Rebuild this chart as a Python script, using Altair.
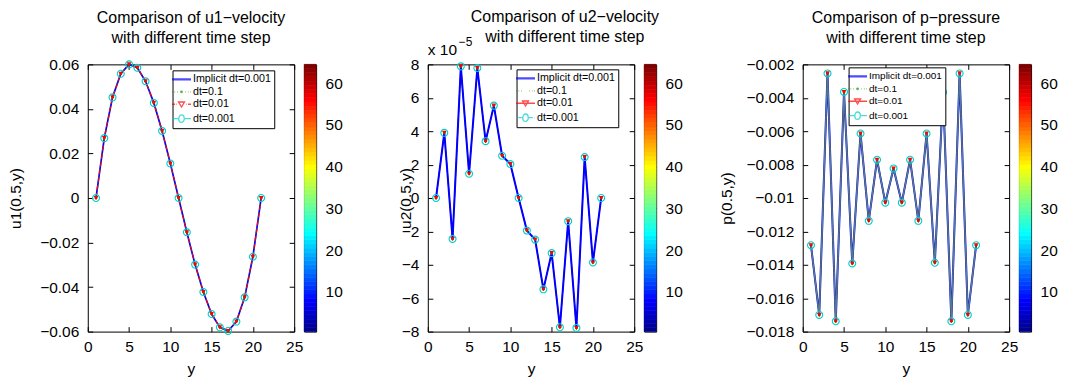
import altair as alt
import pandas as pd

# ---------------- data ----------------
Y_POS = [1, 2, 3, 4, 5, 6, 7, 8, 9, 10, 11, 12, 13, 14, 15, 16, 17, 18, 19, 20, 21]

U1 = [0.0, 0.0269, 0.0452, 0.0558, 0.0600, 0.0585, 0.0524, 0.0427, 0.0301, 0.0155, 0.0,
      -0.0154, -0.0299, -0.0422, -0.0521, -0.0581, -0.0597, -0.0555, -0.0446, -0.0264, 0.0]

U2_E5 = [0.0, 3.9, -2.45, 7.88, 1.45, 7.78, 3.40, 5.53, 2.53, 2.03, 0.0,
         -1.95, -2.49, -5.47, -3.30, -7.74, -1.39, -7.78, 2.45, -3.86, 0.0]

P = [-0.01283, -0.0170, -0.00254, -0.01738, -0.00365, -0.01392, -0.00614, -0.01137, -0.00771,
     -0.01028, -0.00823, -0.01028, -0.00771, -0.01137, -0.00614, -0.01388, -0.00367, -0.01738,
     -0.00254, -0.0170, -0.01283]

SERIES = ["Implicit dt=0.001", "dt=0.1", "dt=0.01", "dt=0.001"]
SERIES_COLORS = ["#0000ff", "#009900", "#ff0000", "#00cccc"]

X_TICKS = [0, 5, 10, 15, 20, 25]
U1_TICKS = [-0.06, -0.04, -0.02, 0, 0.02, 0.04, 0.06]
U2_TICKS = [-8, -6, -4, -2, 0, 2, 4, 6, 8]
P_TICKS = [-0.018, -0.016, -0.014, -0.012, -0.01, -0.008, -0.006, -0.004, -0.002]

TITLES = [
    ["Comparison of u1\u2212velocity", "with different time step"],
    ["Comparison of u2\u2212velocity", "with different time step"],
    ["Comparison of p\u2212pressure", "with different time step"],
]
YTITLES = ["u1(0.5,y)", "u2(0.5,y)", "p(0.5,y)"]
MULT_BASE = "x 10"
MULT_EXP = "\u22125"

CB_LEVELS = list(range(1, 65))
CB_TICKS = [10, 20, 30, 40, 50, 60]
JET_STOPS = [1, 8, 24, 40, 56, 64]
JET_COLORS = ["#00008f", "#0000ff", "#00ffff", "#ffff00", "#ff0000", "#800000"]

# ---------------- styling ----------------
FONT = "Liberation Sans"
W, H = 207, 268
LBL = 15.5

# legend symbol paths (line + marker)
ELL = "M-0.55,0A0.55,0.75 0 1,0 0.55,0A0.55,0.75 0 1,0 -0.55,0"
TRI = "M-0.6,-0.45L0.6,-0.45L0,0.55Z"
DOT = "M-0.15,0A0.15,0.15 0 1,0 0.15,0A0.15,0.15 0 1,0 -0.15,0"
SOLID_THICK = "M-1.9,-0.1L1.9,-0.1M-1.9,0.1L1.9,0.1"
DOTTED = "M-1.9,0L-1.78,0M-1.4,0L-1.28,0M-0.9,0L-0.78,0M0.78,0L0.9,0M1.28,0L1.4,0M1.78,0L1.9,0"
DASHDOT = "M-1.9,0L-1.3,0M-1.05,0L-0.95,0M0.95,0L1.05,0M1.3,0L1.9,0"
SOLID_GAP = "M-1.9,0L-0.6,0M0.6,0L1.9,0"
SOLID = "M-1.9,0L1.9,0"
DASHDOT_GAP = "M-1.9,0L-1.8,0M-1.45,0L-0.6,0M0.6,0L1.45,0M1.8,0L1.9,0"

LEG_PATHS = [
    [SOLID_THICK, DOTTED + DOT, DASHDOT + TRI, SOLID_GAP + ELL],
    [SOLID_THICK, DOTTED, SOLID + TRI, DASHDOT_GAP + ELL],
    [SOLID_THICK, DOTTED + DOT, SOLID + TRI, SOLID_GAP + ELL],
]


def panel(values, idx, ydomain, yticks, title_x, legend_x, legend_y, legend_font,
          line_layers, title_offset, title_dx=0, extra=()):
    df = pd.DataFrame({"y": Y_POS, "v": values})
    xs = alt.Scale(domain=[0, 25], nice=False, zero=False)
    ys = alt.Scale(domain=ydomain, nice=False, zero=False)
    x_main = alt.Axis(values=X_TICKS, offset=-5, tickSize=5, labelPadding=8, labelFlush=False,
                      title="y", titlePadding=7)
    y_main = alt.Axis(values=yticks, format="~g", offset=-5, tickSize=5, labelPadding=9,
                      labelFlush=False, title=YTITLES[idx], titleX=title_x, titleY=H / 2,
                      titleAngle=270, titleAlign="center", titleBaseline="middle")
    x_top = alt.Axis(orient="top", values=X_TICKS, offset=-5, tickSize=5, labels=False, title=None)
    y_right = alt.Axis(orient="right", values=yticks, offset=-5, tickSize=5, labels=False, title=None)

    def enc(xa=None, ya=None):
        return dict(x=alt.X("y:Q", scale=xs, axis=xa), y=alt.Y("v:Q", scale=ys, axis=ya))

    base = alt.Chart(df)
    layers = []
    first = True
    for (color, width, dash, op) in line_layers:
        kw = dict(color=color, strokeWidth=width, opacity=op)
        if dash:
            kw["strokeDash"] = dash
        if first:
            layers.append(base.mark_line(**kw).encode(**enc(x_main, y_main)))
            first = False
        else:
            layers.append(base.mark_line(**kw).encode(**enc()))
    layers.append(base.mark_point(shape="circle", filled=True, size=9, color=SERIES_COLORS[1],
                                  opacity=1).encode(**enc()))
    layers.append(base.mark_point(shape="triangle-down", filled=True, size=22, color=SERIES_COLORS[2],
                                  opacity=1).encode(**enc()))
    layers.append(base.mark_point(shape="circle", filled=False, size=48, color=SERIES_COLORS[3],
                                  strokeWidth=1.1, opacity=1).encode(**enc(x_top, y_right)))

    legend = alt.Legend(title=None, orient="none", legendX=legend_x, legendY=legend_y,
                        fillColor="white", strokeColor="black", padding=3, rowPadding=1.5,
                        labelFont=FONT, labelFontSize=legend_font, labelColor="black",
                        labelOffset=5.5, symbolSize=100, symbolStrokeWidth=1.3, labelLimit=300)
    leg = alt.Chart(pd.DataFrame({"series": SERIES})).transform_filter("false").mark_point(
        filled=False).encode(
        color=alt.Color("series:N", scale=alt.Scale(domain=SERIES, range=SERIES_COLORS), legend=legend),
        shape=alt.Shape("series:N", scale=alt.Scale(domain=SERIES, range=LEG_PATHS[idx]), legend=legend),
    )
    layers.append(leg)
    layers.extend(extra)

    return alt.layer(*layers).resolve_axis(x="independent", y="independent").properties(
        width=W, height=H,
        title=alt.TitleParams(text=TITLES[idx], anchor="middle", frame="group", offset=title_offset,
                              dx=title_dx, lineHeight=20, fontSize=16, font=FONT,
                              fontWeight="normal", color="black"),
    )


def colorbar():
    cb = pd.DataFrame({"level": CB_LEVELS})
    sc = alt.Scale(domain=JET_STOPS, range=JET_COLORS, interpolate="rgb")
    return alt.Chart(cb).transform_calculate(
        lo="datum.level - 0.5", hi="datum.level + 0.5"
    ).mark_rect(strokeWidth=0.6).encode(
        y=alt.Y("lo:Q", scale=alt.Scale(domain=[0.5, 64.5], nice=False, zero=False),
                axis=alt.Axis(orient="right", values=CB_TICKS, offset=-3, tickSize=3,
                              labelPadding=9, labelFlush=False, title=None)),
        y2="hi:Q",
        color=alt.Color("level:Q", scale=sc, legend=None),
        stroke=alt.Stroke("level:Q", scale=sc, legend=None),
    ).properties(width=12, height=H)


def spacer(w):
    return alt.Chart(pd.DataFrame({"s": [0]})).mark_point(opacity=0).encode(
        x=alt.value(0), y=alt.value(0)
    ).properties(width=w, height=H, view=alt.ViewBackground(stroke="transparent"))


p1 = panel(U1, 0, [-0.06, 0.06], U1_TICKS, -77, 85, 6, 10.7,
           [(SERIES_COLORS[0], 1.7, None, 1), (SERIES_COLORS[1], 1.0, [1, 3], 1),
            (SERIES_COLORS[2], 1.1, [5, 3], 1)], 11)

mult = alt.Chart(pd.DataFrame({"t": [MULT_BASE]})).mark_text(
    align="left", baseline="alphabetic", fontSize=LBL, font=FONT, color="black"
).encode(text="t:N", x=alt.value(0), y=alt.value(-9))
mexp = alt.Chart(pd.DataFrame({"t": [MULT_EXP]})).mark_text(
    align="left", baseline="alphabetic", fontSize=12, font=FONT, color="black"
).encode(text="t:N", x=alt.value(31), y=alt.value(-18))

p2 = panel(U2_E5, 1, [-8, 8], U2_TICKS, -27, 89, 5, 10.7,
           [(SERIES_COLORS[1], 1.0, [1, 3], 1), (SERIES_COLORS[2], 1.0, None, 1),
            (SERIES_COLORS[3], 1.0, [5, 3, 1, 3], 1), (SERIES_COLORS[0], 2.0, None, 1)],
           -9, title_dx=34, extra=(mult, mexp))

p3 = panel(P, 2, [-0.018, -0.002], P_TICKS, -81, 46, 3, 10,
           [(SERIES_COLORS[0], 2.0, None, 1), (SERIES_COLORS[1], 1.0, [1, 3], 1),
            (SERIES_COLORS[2], 1.0, None, 1), (SERIES_COLORS[3], 1.4, None, 0.6)], 11)

chart = alt.hconcat(
    p1, colorbar(), spacer(92), p2, colorbar(), spacer(127), p3, colorbar(),
    spacing=10, bounds="flush",
).resolve_scale(
    color="independent", shape="independent", stroke="independent"
).properties(
    padding=0
).configure_view(
    stroke="black", strokeWidth=1
).configure_axis(
    labelFont=FONT, titleFont=FONT, labelFontSize=LBL, titleFontSize=LBL,
    titleFontWeight="normal", labelColor="black", titleColor="black",
    tickColor="black", grid=False, domain=False
).configure_text(font=FONT)

chart.save("out.html", embed_options={"renderer": "svg", "actions": False})
